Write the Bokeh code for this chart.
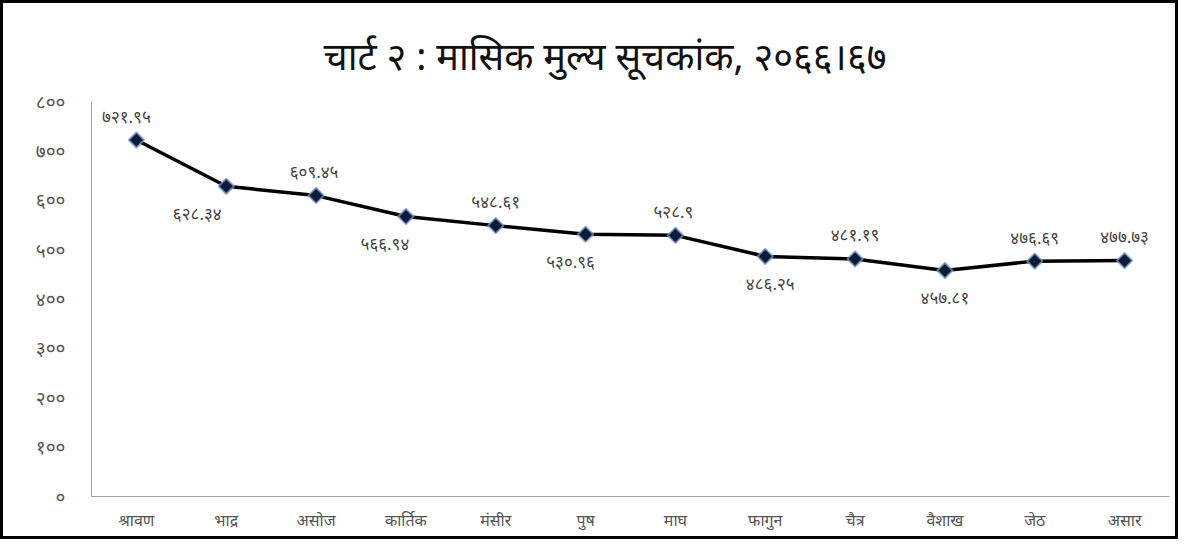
import math
from bokeh.plotting import figure
from bokeh.models import ColumnDataSource, FixedTicker, Range1d
from bokeh.embed import file_html
from bokeh.resources import INLINE
from bokeh.core.properties import value

months = ["श्रावण", "भाद्र", "असोज", "कार्तिक", "मंसीर", "पुष", "माघ", "फागुन", "चैत्र", "वैशाख", "जेठ", "असार"]
index_values = [721.95, 628.34, 609.45, 566.94, 548.61, 530.96, 528.9, 486.25, 481.19, 457.81, 476.69, 477.73]
label_above = [True, False, True, False, True, False, True, False, True, False, True, True]
label_dx = [-10, -29, -2, -21, 0, -15, -2, 5, 0, 0, 0, 0]
y_ticks = [0, 100, 200, 300, 400, 500, 600, 700, 800]

DEV = str.maketrans("0123456789", "०१२३४५६७८९")
def dev(s):
    return str(s).translate(DEV)

FONT = "Noto Sans"

p = figure(width=1178, height=539, x_range=months, y_range=Range1d(0, 800),
           output_backend="svg", toolbar_location=None,
           min_border_left=88, min_border_right=12, min_border_top=98, min_border_bottom=46)
p.styles = {"border": "3px solid black", "box-sizing": "border-box"}
p.title.text = "चार्ट २ : मासिक मुल्य सूचकांक, २०६६।६७"
p.title.align = "left"
p.title.offset = 232
p.title.text_font = FONT
p.title.text_font_size = "38px"
p.title.text_font_style = "normal"
p.title.text_color = "#111111"
p.title.standoff = 42

p.outline_line_color = None
p.border_fill_color = "white"
p.background_fill_color = "white"
p.xgrid.grid_line_color = None
p.ygrid.grid_line_color = None

p.yaxis.ticker = FixedTicker(ticks=y_ticks)
p.yaxis.major_label_overrides = {t: dev(t) for t in y_ticks}
for ax in (p.xaxis, p.yaxis):
    ax.axis_line_color = "#a0a0a0"
    ax.major_tick_line_color = None
    ax.minor_tick_line_color = None
    ax.major_label_text_font = FONT
    ax.major_label_text_color = "#555555"
p.yaxis.major_label_text_font_size = "19px"
p.xaxis.major_label_text_font_size = "16px"
p.yaxis.major_label_standoff = 20
p.xaxis.major_label_standoff = 6

src = ColumnDataSource(dict(
    x=months, y=index_values,
    lab=[dev(f"{v}") for v in index_values],
    off=[-24 if a else 27 for a in label_above],
    xo=label_dx,
))
p.line("x", "y", source=src, line_color="black", line_width=3.5)
p.scatter("x", "y", source=src, marker="square", size=11, angle=math.pi / 4,
          fill_color="#0b1a38", line_color="#7f9ccc", line_width=2, line_alpha=0.7)
p.text("x", "y", text="lab", source=src, x_offset="xo", y_offset="off",
       text_align="center", text_baseline="middle", text_font=value(FONT),
       text_font_size="17px", text_color="#444444")

open("out.html", "w").write(file_html(p, INLINE))
